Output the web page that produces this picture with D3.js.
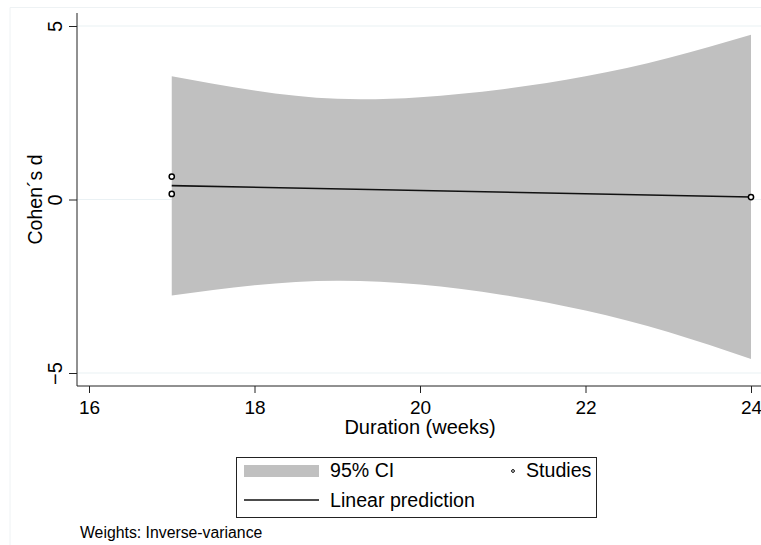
<!DOCTYPE html>
<html>
<head>
<meta charset="utf-8">
<script src="https://cdn.jsdelivr.net/npm/d3@7"></script>
<style>
  html, body { margin: 0; padding: 0; background: #fff; }
  svg text { font-family: "Liberation Sans", Arial, Helvetica, sans-serif; fill: #000; }
</style>
</head>
<body>
<svg id="chart" width="761" height="545"></svg>
<script>
// Meta-regression of Cohen's d on intervention duration
const studyWeeks = [17, 17, 24];
const studyD = [0.66, 0.16, 0.07];

const fitWeeks = [17, 24];
const fitD = [0.40, 0.07];

const bandWeeks = [17, 18, 19, 20, 21, 22, 23, 24];
const bandUpper = [3.55, 3.14, 2.90, 2.95, 3.18, 3.55, 4.08, 4.75];
const bandLower = [-2.77, -2.47, -2.34, -2.45, -2.75, -3.20, -3.82, -4.60];

const xTicks = [16, 18, 20, 22, 24];
const yTicks = [-5, 0, 5];

const svg = d3.select("#chart");
const x = d3.scaleLinear().domain([16, 24]).range([89, 751]);
const y = d3.scaleLinear().domain([-5, 5]).range([373, 26]);

const plotLeft = 77, plotBottom = 386, plotTop = 13, plotRight = 761;

// faint outer frame
svg.append("path")
  .attr("d", `M10,545 V7.5 H761`)
  .attr("fill", "none").attr("stroke", "#eef2f4").attr("stroke-width", 1);

// gridlines
svg.append("g").selectAll("line").data(yTicks).join("line")
  .attr("x1", plotLeft).attr("x2", plotRight)
  .attr("y1", d => y(d)).attr("y2", d => y(d))
  .attr("stroke", "#eaf1f4").attr("stroke-width", 1.2);

// confidence band
const band = bandWeeks.map((w, i) => ({w, lo: bandLower[i], hi: bandUpper[i]}));
svg.append("path").datum(band)
  .attr("fill", "#c0c0c0")
  .attr("d", d3.area().curve(d3.curveNatural)
    .x(d => x(d.w)).y0(d => y(d.lo)).y1(d => y(d.hi)));

// fitted line
svg.append("path").datum(fitWeeks.map((w, i) => [w, fitD[i]]))
  .attr("fill", "none").attr("stroke", "#111").attr("stroke-width", 1.6)
  .attr("d", d3.line().x(d => x(d[0])).y(d => y(d[1])));

// study markers
svg.append("g").selectAll("circle").data(studyWeeks.map((w, i) => [w, studyD[i]])).join("circle")
  .attr("cx", d => x(d[0])).attr("cy", d => y(d[1])).attr("r", 2.6)
  .attr("fill", "#fff").attr("stroke", "#000").attr("stroke-width", 1.5);

// y axis
const yAxis = d3.axisLeft(y).tickValues(yTicks).tickSize(8).tickPadding(6).tickFormat(d3.format("d"));
const gy = svg.append("g").attr("transform", `translate(${plotLeft},0)`).call(yAxis);
gy.select(".domain").attr("d", `M0,${plotTop}V${plotBottom}`).attr("stroke", "#222");
gy.selectAll(".tick line").attr("stroke", "#222");
gy.selectAll(".tick text")
  .attr("font-size", 20).attr("text-anchor", "middle")
  .attr("x", null).attr("dy", null)
  .attr("transform", "translate(-15,0) rotate(-90)");

// x axis
const xAxis = d3.axisBottom(x).tickValues(xTicks).tickSize(7).tickPadding(6).tickFormat(d3.format("d"));
const gx = svg.append("g").attr("transform", `translate(0,${plotBottom})`).call(xAxis);
gx.select(".domain").attr("d", `M${plotLeft},0H${plotRight}`).attr("stroke", "#222");
gx.selectAll(".tick line").attr("stroke", "#222");
gx.selectAll(".tick text").attr("font-size", 19).attr("dy", null).attr("y", 28);

// axis titles
svg.append("text").attr("x", (x(16) + x(24)) / 2).attr("y", 434)
  .attr("text-anchor", "middle").attr("font-size", 20).text("Duration (weeks)");
svg.append("text").attr("transform", `translate(42,${y(0)}) rotate(-90)`)
  .attr("text-anchor", "middle").attr("font-size", 19.5).text("Cohen´s d");

// legend
const lg = svg.append("g");
lg.append("rect").attr("x", 236.5).attr("y", 457.5).attr("width", 360).attr("height", 60)
  .attr("fill", "#fff").attr("stroke", "#222").attr("stroke-width", 1);
lg.append("rect").attr("x", 244).attr("y", 465).attr("width", 75).attr("height", 12).attr("fill", "#c0c0c0");
lg.append("text").attr("x", 330).attr("y", 477).attr("font-size", 19.6).text("95% CI");
lg.append("line").attr("x1", 244).attr("x2", 319).attr("y1", 500).attr("y2", 500)
  .attr("stroke", "#111").attr("stroke-width", 1.6);
lg.append("text").attr("x", 330).attr("y", 507).attr("font-size", 19.6).text("Linear prediction");
lg.append("circle").attr("cx", 513).attr("cy", 471).attr("r", 1.4)
  .attr("fill", "#fff").attr("stroke", "#000").attr("stroke-width", 1);
lg.append("text").attr("x", 526).attr("y", 477).attr("font-size", 19.6).text("Studies");

// note
svg.append("text").attr("x", 80).attr("y", 538).attr("font-size", 15.8).text("Weights: Inverse-variance");
</script>
</body>
</html>
